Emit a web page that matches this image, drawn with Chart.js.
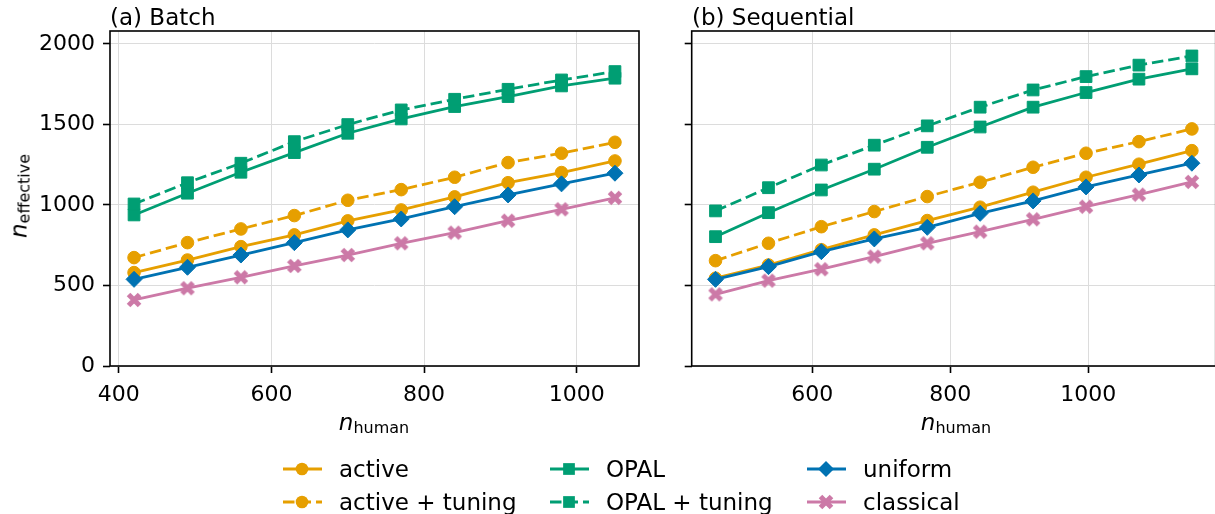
<!DOCTYPE html>
<html><head><meta charset="utf-8">
<script src="https://cdn.jsdelivr.net/npm/chart.js@4.4.1/dist/chart.umd.min.js"></script>
<style>
html,body{margin:0;padding:0;width:1215px;height:514px;overflow:hidden;background:#fff;font-family:"DejaVu Sans",sans-serif;}
canvas.chart{position:absolute;top:0;}
.t{position:absolute;font-size:23px;line-height:23px;color:#000;white-space:nowrap;font-family:"DejaVu Sans",sans-serif;}
.sub{font-size:16px;position:relative;top:3px;font-style:normal;}
.leg{position:absolute;}
</style>
</head><body>
<canvas id="c1" class="chart" width="650" height="440" style="left:0"></canvas>
<canvas id="c2" class="chart" width="580" height="440" style="left:645px"></canvas>
<div class="t" style="left:110px;top:6px">(a) Batch</div>
<div class="t" style="left:692px;top:6px">(b) Sequential</div>
<div class="t" id="xl1" style="left:374px;top:411px;transform:translateX(-50%)"><i>n</i><span class="sub">human</span></div>
<div class="t" id="xl2" style="left:956px;top:411px;transform:translateX(-50%)"><i>n</i><span class="sub">human</span></div>
<div class="t" id="yl" style="left:20px;top:196px;transform:translate(-50%,-50%) rotate(-90deg)"><i>n</i><span class="sub">effective</span></div>
<div id="legend"></div>
<script>
// ---------- data ----------
const seriesNames = ['active', 'active + tuning', 'OPAL', 'OPAL + tuning', 'uniform', 'classical'];
const batchX = [420, 490, 560, 630, 700, 770, 840, 910, 980, 1050];
const seqX = [460, 536.7, 613.3, 690, 766.7, 843.3, 920, 996.7, 1073.3, 1150];
const xTicksBatch = [400, 600, 800, 1000];
const xTicksSeq = [600, 800, 1000];
const yTicks = [0, 500, 1000, 1500, 2000];

const batchActive       = [580, 658, 741, 814, 901, 969, 1050, 1138, 1201, 1273];
const batchActiveTuning = [673, 766, 851, 934, 1029, 1095, 1172, 1263, 1321, 1389];
const batchOPAL         = [938, 1073, 1203, 1325, 1445, 1534, 1611, 1673, 1739, 1787];
const batchOPALTuning   = [1006, 1138, 1259, 1393, 1499, 1590, 1656, 1718, 1776, 1828];
const batchUniform      = [538, 613, 689, 766, 845, 913, 989, 1062, 1131, 1197];
const batchClassical    = [410, 483, 551, 621, 689, 762, 828, 902, 973, 1044];

const seqActive       = [545, 627, 722, 814, 903, 986, 1079, 1172, 1253, 1337];
const seqActiveTuning = [654, 762, 865, 959, 1052, 1141, 1234, 1321, 1393, 1472];
const seqOPAL         = [803, 952, 1093, 1222, 1358, 1484, 1607, 1698, 1781, 1845];
const seqOPALTuning   = [963, 1107, 1248, 1371, 1491, 1607, 1714, 1797, 1868, 1925];
const seqUniform      = [538, 617, 710, 789, 861, 948, 1025, 1112, 1186, 1259];
const seqClassical    = [445, 530, 601, 679, 762, 834, 911, 989, 1064, 1143];

// ---------- styles ----------
const ORANGE = '#E69F00', GREEN = '#009E73', BLUE = '#0072B2', PINK = '#CC79A7';
const LW = 2.8, DASH = [11.5, 5];

function makeXMarker(color) {
  const c = document.createElement('canvas');
  c.width = 16; c.height = 16;
  const g = c.getContext('2d');
  g.strokeStyle = color; g.lineWidth = 5; g.lineCap = 'butt';
  g.beginPath(); g.moveTo(2.5, 2.5); g.lineTo(13.5, 13.5); g.moveTo(13.5, 2.5); g.lineTo(2.5, 13.5); g.stroke();
  return c;
}
const xMarker = makeXMarker(PINK);

const styles = [
  {color: ORANGE, dash: [], style: 'circle', r: 6.3},
  {color: ORANGE, dash: DASH, style: 'circle', r: 6.3},
  {color: GREEN, dash: [], style: 'rect', r: 8.3},
  {color: GREEN, dash: DASH, style: 'rect', r: 8.3},
  {color: BLUE, dash: [], style: 'rectRot', r: 8},
  {color: PINK, dash: [], style: xMarker, r: 8},
];

function makeDatasets(xs, ys) {
  return ys.map((arr, i) => ({
    label: seriesNames[i],
    data: arr.map((v, k) => ({x: xs[k], y: v})),
    borderColor: styles[i].color,
    backgroundColor: styles[i].color,
    borderWidth: LW,
    borderDash: styles[i].dash,
    pointStyle: styles[i].style,
    pointRadius: styles[i].r,
    pointBorderWidth: 1,
    pointBorderColor: styles[i].color,
    pointBackgroundColor: styles[i].color,
    pointHoverRadius: styles[i].r,
    tension: 0,
    fill: false,
    order: 10 - i
  }));
}

Chart.defaults.color = '#000';
Chart.defaults.font.family = '"DejaVu Sans", sans-serif';

const frame = {
  id: 'frame',
  afterDraw(chart) {
    const {ctx, chartArea: a} = chart;
    ctx.save();
    ctx.strokeStyle = '#000'; ctx.lineWidth = 1.6;
    ctx.strokeRect(a.left, a.top, a.right - a.left, a.bottom - a.top);
    ctx.restore();
  }
};

function makeChart(id, xs, ys, xmin, xmax, xticks, yAxisWidth, showY, padRight) {
  return new Chart(document.getElementById(id), {
    type: 'line',
    data: {datasets: makeDatasets(xs, ys)},
    options: {
      responsive: false, animation: false, devicePixelRatio: 1,
      layout: {padding: {top: 31, right: padRight, left: 0, bottom: 0}},
      plugins: {legend: {display: false}, tooltip: {enabled: false}},
      scales: {
        x: {
          type: 'linear', min: xmin, max: xmax,
          afterBuildTicks: s => { s.ticks = xticks.map(v => ({value: v})); },
          afterFit: s => { s.height = 74; },
          ticks: {font: {size: 22}, padding: 9, maxRotation: 0, autoSkip: false, color: '#000',
                  callback: v => String(v)},
          grid: {color: '#dcdcdc', lineWidth: 1, tickColor: '#000', tickLength: 7, tickWidth: 1.6},
          border: {display: false}
        },
        y: {
          type: 'linear', min: 0, max: 2080,
          afterBuildTicks: s => { s.ticks = yTicks.map(v => ({value: v})); },
          afterFit: s => { s.width = yAxisWidth; },
          ticks: {font: {size: 22}, padding: 8, autoSkip: false, color: '#000',
                  callback: v => showY ? String(v) : ''},
          grid: {color: '#dcdcdc', lineWidth: 1, tickColor: '#000', tickLength: 7, tickWidth: 1.6},
          border: {display: false}
        }
      }
    },
    plugins: [frame]
  });
}

makeChart('c1', batchX, [batchActive, batchActiveTuning, batchOPAL, batchOPALTuning, batchUniform, batchClassical],
  388.5, 1081.5, xTicksBatch, 110, true, 11);
makeChart('c2', seqX, [seqActive, seqActiveTuning, seqOPAL, seqOPALTuning, seqUniform, seqClassical],
  425.5, 1184.5, xTicksSeq, 46.7, false, 5);

// ---------- legend (column-major, 3 columns x 2 rows) ----------
const legCols = [282, 549, 806];
const legRows = [469, 502];
const legEl = document.getElementById('legend');
seriesNames.forEach((name, i) => {
  const col = Math.floor(i / 2), row = i % 2;
  const st = styles[i];
  const cv = document.createElement('canvas');
  cv.width = 44; cv.height = 24; cv.className = 'leg';
  cv.style.left = legCols[col] + 'px';
  cv.style.top = (legRows[row] - 12) + 'px';
  const g = cv.getContext('2d');
  g.strokeStyle = st.color; g.fillStyle = st.color; g.lineWidth = LW;
  g.setLineDash(st.dash);
  g.beginPath(); g.moveTo(1, 12); g.lineTo(40, 12); g.stroke();
  g.setLineDash([]);
  const cx = 20, cy = 12;
  if (st.style === 'circle') { g.beginPath(); g.arc(cx, cy, st.r, 0, Math.PI * 2); g.fill(); }
  else if (st.style === 'rect') { const s = st.r * Math.SQRT1_2; g.fillRect(cx - s, cy - s, 2 * s, 2 * s); }
  else if (st.style === 'rectRot') { g.beginPath(); g.moveTo(cx - st.r, cy); g.lineTo(cx, cy - st.r); g.lineTo(cx + st.r, cy); g.lineTo(cx, cy + st.r); g.closePath(); g.fill(); }
  else { g.drawImage(st.style, cx - 8, cy - 8); }
  legEl.appendChild(cv);
  const t = document.createElement('div');
  t.className = 't';
  t.textContent = name;
  t.style.left = (legCols[col] + 57) + 'px';
  t.style.top = (legRows[row] + 8 - 19.4) + 'px';
  legEl.appendChild(t);
});
</script>
</body></html>
